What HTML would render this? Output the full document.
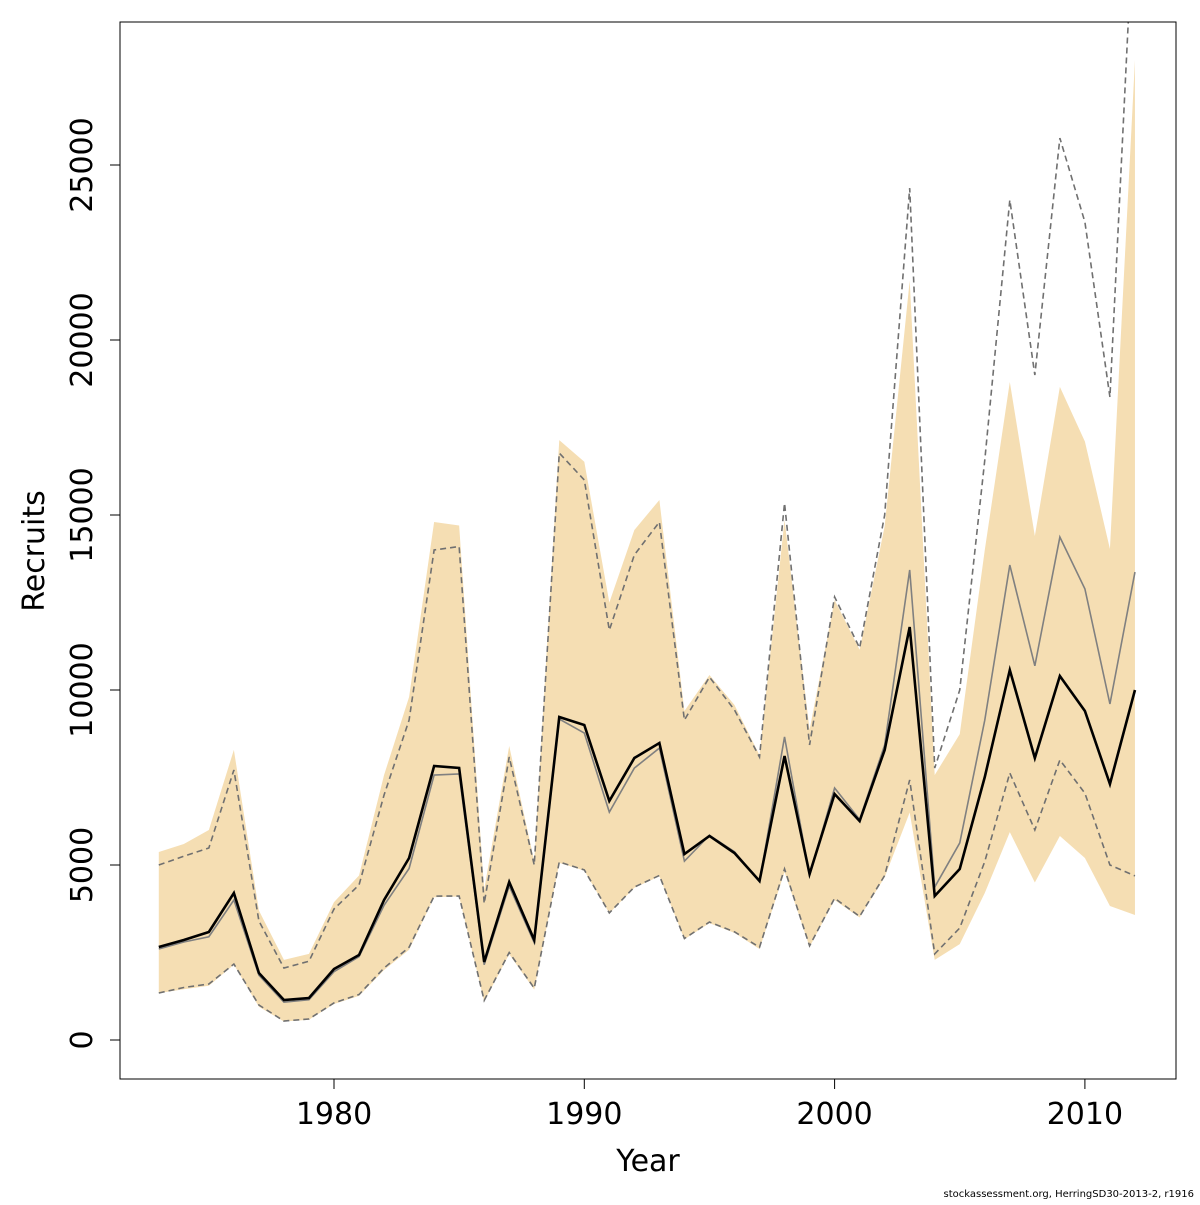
<!DOCTYPE html>
<html><head><meta charset="utf-8"><style>
html,body{margin:0;padding:0;background:#fff;}
svg text{font-family:"DejaVu Sans","Liberation Sans",sans-serif;}
</style></head><body>
<svg id="chart" width="1200" height="1200" xmlns="http://www.w3.org/2000/svg">
<defs><clipPath id="clip"><rect x="120" y="22" width="1056" height="1057"/></clipPath></defs>
<g id="band" clip-path="url(#clip)"></g>
<g id="lines" clip-path="url(#clip)"></g>
<rect x="120" y="22" width="1056" height="1057" fill="none" stroke="#000" stroke-width="1"/>
<g id="axes"></g>
<text x="648" y="1171" font-size="30" text-anchor="middle">Year</text>
<text transform="translate(44,551) rotate(-90)" font-size="30" text-anchor="middle">Recruits</text>
<text x="1194" y="1197" font-size="10" text-anchor="end">stockassessment.org, HerringSD30-2013-2, r1916</text>
</svg>
<script>
const years=[];for(let y=1973;y<=2012;y++)years.push(y);
const recruits=[2657,2857,3086,4200,1914,1143,1200,2029,2429,4000,5200,7829,7771,2229,4514,2857,9229,9000,6829,8057,8486,5314,5829,5343,4543,8114,4743,7029,6257,8286,11800,4114,4886,7514,10571,8057,10400,9400,7314,10000];
const altRecruits=[2600,2800,2950,4000,1850,1080,1150,1950,2380,3850,4900,7570,7600,2150,4400,2780,9170,8770,6510,7770,8340,5110,5850,5380,4520,8660,4700,7200,6300,8430,13430,4370,5630,9140,13570,10690,14370,12890,9600,13370];
const altUpper=[5000,5250,5486,7714,3400,2057,2250,3743,4430,7000,9140,14000,14100,3900,8086,5000,16770,16000,11710,13860,14800,9140,10370,9430,8086,15340,8430,12660,11200,15000,24340,7770,10000,16570,24000,19000,25770,23370,18370,33000];
const altLower=[1343,1500,1600,2170,1000,543,600,1060,1300,2057,2650,4110,4114,1130,2500,1480,5086,4860,3630,4370,4700,2900,3370,3090,2650,4890,2690,4050,3530,4700,7430,2460,3200,5100,7630,6000,8000,7050,5000,4690];
const bandUpper=[5370,5600,6000,8290,3700,2290,2460,3940,4700,7570,9800,14800,14700,4300,8400,5100,17140,16520,12500,14570,15430,9400,10430,9570,8140,14860,8860,12570,11150,14680,21700,7570,8740,14000,18800,14400,18660,17100,14030,28000];
const bandLower=[1340,1450,1550,2150,950,530,580,1030,1260,2000,2580,4080,4100,1100,2450,1440,5060,4840,3620,4350,4680,2880,3340,3060,2600,4800,2660,4000,3500,4650,6500,2290,2740,4200,5940,4500,5830,5200,3830,3570];
const xTicks=[1980,1990,2000,2010];
const yTicks=[0,5000,10000,15000,20000,25000];
const X=y=>334+(y-1980)*25.03;
const Y=v=>1040-v*0.035;
const NS="http://www.w3.org/2000/svg";
function mk(tag,attrs,parent){const e=document.createElementNS(NS,tag);for(const k in attrs)e.setAttribute(k,attrs[k]);parent.appendChild(e);return e;}
const band=document.getElementById('band'),lines=document.getElementById('lines'),axes=document.getElementById('axes');
let d=years.map((y,i)=>(i?'L':'M')+X(y)+','+Y(bandUpper[i])).join('')+years.slice().reverse().map((y,j)=>'L'+X(y)+','+Y(bandLower[years.length-1-j])).join('')+'Z';
const bp=mk('path',{d:d,fill:'#f5deb3',stroke:'none'},band);


function line(arr,name,stroke,w,dash){const p=mk('path',{d:years.map((y,i)=>(i?'L':'M')+X(y)+','+Y(arr[i])).join(''),fill:'none',stroke:stroke,'stroke-width':w},lines);if(dash)p.setAttribute('stroke-dasharray',dash);

}
line(altUpper,'alt-upper-dashed','#707070',1.6,'6,4');
line(altLower,'alt-lower-dashed','#707070',1.6,'6,4');
line(altRecruits,'alt-recruits-line','#808080',1.6);
line(recruits,'recruits-line','#000',2.6);
xTicks.forEach(t=>{mk('line',{x1:X(t),x2:X(t),y1:1079,y2:1089,stroke:'#000'},axes);const tx=mk('text',{x:X(t),y:1124,'font-size':30,'text-anchor':'middle'},axes);tx.textContent=t;

});
yTicks.forEach(t=>{mk('line',{x1:110,x2:120,y1:Y(t),y2:Y(t),stroke:'#000'},axes);const tx=mk('text',{transform:'translate(92,'+Y(t)+') rotate(-90)','font-size':30,'text-anchor':'middle'},axes);tx.textContent=t;

});
</script>
</body></html>
